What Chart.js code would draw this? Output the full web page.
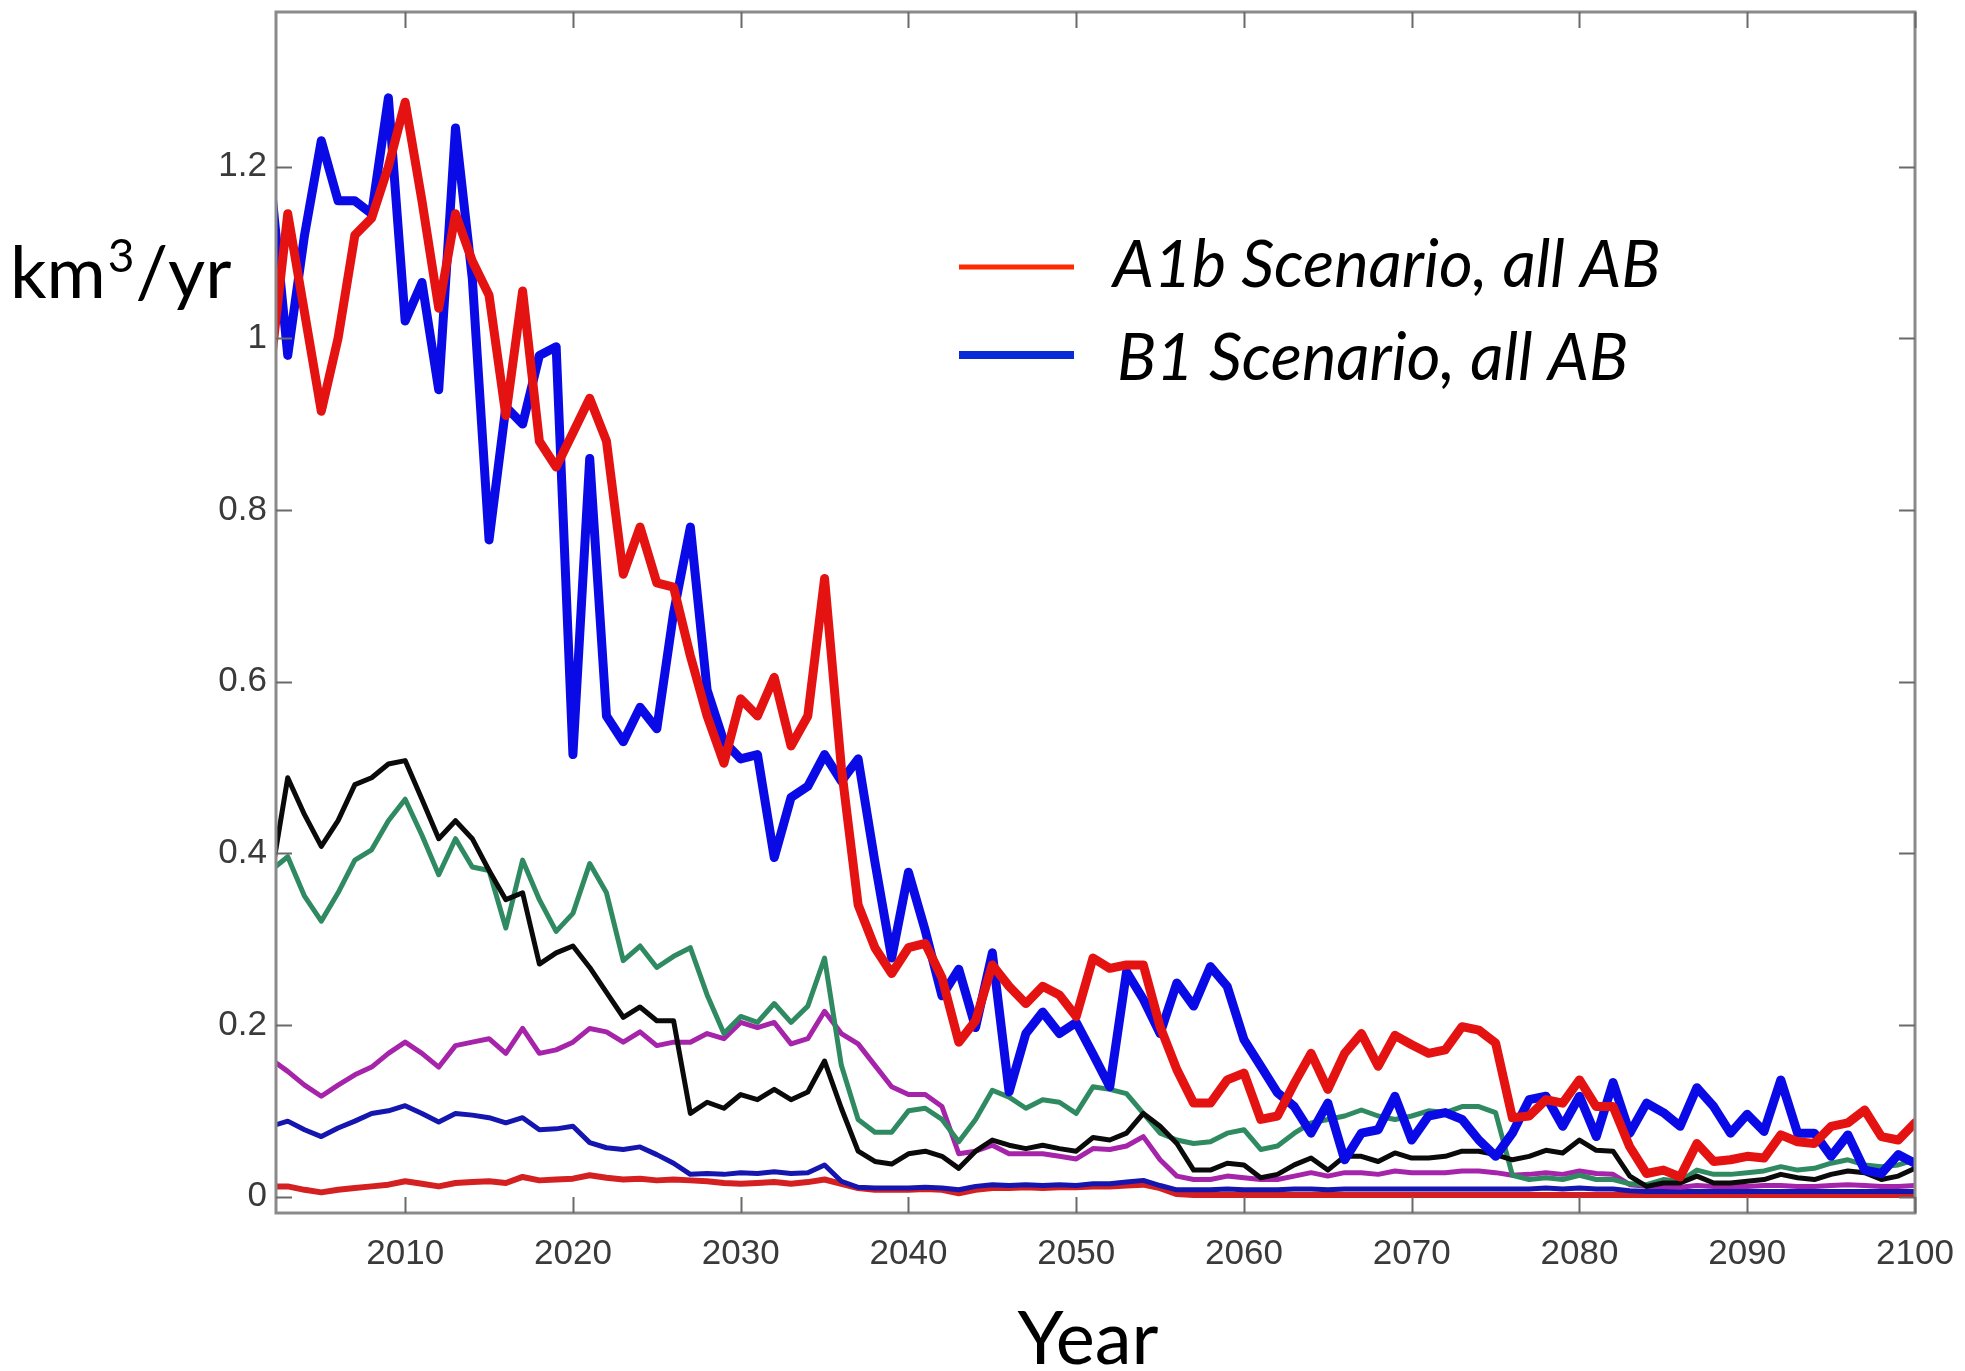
<!DOCTYPE html>
<html>
<head>
<meta charset="utf-8">
<script src="https://cdn.jsdelivr.net/npm/chart.js@4.4.1/dist/chart.umd.min.js"></script>
<style>
html,body{margin:0;padding:0;background:#fff;}
#wrap{position:relative;width:1965px;height:1371px;}
</style>
</head>
<body>
<div id="wrap"><canvas id="c" width="1965" height="1371"></canvas></div>
<script>
const years = [2002,2003,2004,2005,2006,2007,2008,2009,2010,2011,2012,2013,2014,2015,2016,2017,2018,2019,2020,2021,
2022,2023,2024,2025,2026,2027,2028,2029,2030,2031,2032,2033,2034,2035,2036,2037,2038,2039,2040,2041,
2042,2043,2044,2045,2046,2047,2048,2049,2050,2051,2052,2053,2054,2055,2056,2057,2058,2059,2060,2061,
2062,2063,2064,2065,2066,2067,2068,2069,2070,2071,2072,2073,2074,2075,2076,2077,2078,2079,2080,2081,
2082,2083,2084,2085,2086,2087,2088,2089,2090,2091,2092,2093,2094,2095,2096,2097,2098,2099,2100];

const a1bAll = [0.97,1.145,1.03,0.915,1.0,1.12,1.14,1.2,1.275,1.16,1.035,1.145,1.09,1.05,0.91,1.055,0.88,0.85,0.89,0.93,
0.88,0.725,0.78,0.715,0.71,0.63,0.56,0.505,0.58,0.56,0.605,0.525,0.56,0.72,0.5,0.34,0.29,0.26,0.29,0.295,
0.255,0.18,0.205,0.27,0.245,0.225,0.245,0.235,0.21,0.278,0.266,0.27,0.27,0.198,0.148,0.109,0.109,0.136,0.144,0.09,
0.094,0.132,0.167,0.125,0.167,0.19,0.152,0.188,0.177,0.167,0.171,0.198,0.194,0.179,0.092,0.094,0.113,0.109,0.136,0.105,
0.105,0.058,0.027,0.031,0.023,0.062,0.041,0.043,0.047,0.045,0.072,0.064,0.062,0.082,0.086,0.101,0.07,0.066,0.086];

const b1All = [1.18,0.98,1.12,1.23,1.16,1.16,1.145,1.28,1.02,1.065,0.94,1.245,1.07,0.765,0.92,0.9,0.98,0.99,0.515,0.86,
0.56,0.53,0.57,0.545,0.68,0.78,0.59,0.53,0.51,0.515,0.395,0.465,0.478,0.515,0.484,0.51,0.39,0.278,0.378,0.31,
0.234,0.265,0.197,0.284,0.122,0.19,0.215,0.19,0.203,0.166,0.128,0.262,0.23,0.19,0.249,0.222,0.268,0.245,0.183,0.152,
0.121,0.105,0.074,0.109,0.043,0.074,0.078,0.117,0.066,0.094,0.098,0.09,0.066,0.047,0.074,0.113,0.117,0.082,0.117,0.07,
0.133,0.074,0.109,0.098,0.082,0.127,0.105,0.074,0.096,0.076,0.136,0.074,0.074,0.047,0.072,0.031,0.027,0.049,0.039];

const blackThin = [0.37,0.488,0.445,0.408,0.438,0.48,0.488,0.504,0.508,0.463,0.417,0.438,0.417,0.38,0.346,0.354,0.271,0.284,0.292,0.267,
0.238,0.209,0.221,0.205,0.205,0.097,0.11,0.103,0.119,0.113,0.125,0.113,0.122,0.158,0.103,0.053,0.041,0.038,0.05,0.053,
0.047,0.033,0.053,0.066,0.06,0.056,0.06,0.056,0.053,0.069,0.066,0.074,0.097,0.082,0.062,0.031,0.031,0.039,0.037,0.022,
0.026,0.037,0.045,0.031,0.047,0.047,0.041,0.051,0.045,0.045,0.047,0.053,0.053,0.049,0.043,0.047,0.054,0.051,0.066,0.054,
0.053,0.024,0.012,0.016,0.016,0.024,0.016,0.016,0.018,0.02,0.026,0.022,0.02,0.026,0.03,0.028,0.02,0.024,0.033];

const greenThin = [0.38,0.396,0.35,0.321,0.354,0.392,0.404,0.438,0.463,0.421,0.375,0.417,0.384,0.38,0.313,0.392,0.346,0.309,0.33,0.388,
0.354,0.275,0.292,0.267,0.28,0.29,0.235,0.19,0.21,0.203,0.225,0.203,0.222,0.278,0.153,0.09,0.075,0.075,0.1,0.103,
0.09,0.064,0.09,0.124,0.116,0.103,0.113,0.11,0.097,0.128,0.125,0.12,0.097,0.074,0.066,0.062,0.064,0.074,0.078,0.055,
0.059,0.074,0.086,0.09,0.094,0.101,0.094,0.09,0.094,0.1,0.098,0.105,0.105,0.098,0.025,0.02,0.022,0.02,0.025,0.02,
0.02,0.015,0.014,0.02,0.018,0.031,0.026,0.026,0.028,0.03,0.035,0.031,0.033,0.039,0.043,0.037,0.035,0.037,0.043];

const magentaThin = [0.16,0.146,0.13,0.117,0.13,0.142,0.151,0.167,0.18,0.167,0.151,0.176,0.18,0.184,0.167,0.196,0.167,0.171,0.18,0.196,
0.192,0.18,0.192,0.176,0.18,0.18,0.19,0.184,0.203,0.197,0.203,0.178,0.184,0.216,0.19,0.178,0.153,0.128,0.119,0.119,
0.105,0.05,0.053,0.06,0.05,0.05,0.05,0.047,0.044,0.056,0.055,0.059,0.07,0.043,0.024,0.02,0.02,0.024,0.022,0.02,
0.02,0.024,0.028,0.024,0.028,0.028,0.026,0.03,0.028,0.028,0.028,0.03,0.03,0.028,0.025,0.026,0.028,0.026,0.03,0.027,
0.026,0.014,0.012,0.012,0.011,0.013,0.012,0.012,0.012,0.013,0.013,0.012,0.012,0.013,0.014,0.013,0.012,0.012,0.013];

const blueThin = [0.082,0.088,0.078,0.07,0.08,0.088,0.097,0.1,0.106,0.097,0.087,0.097,0.095,0.092,0.086,0.092,0.078,0.079,0.082,0.063,
0.057,0.055,0.058,0.049,0.039,0.026,0.027,0.026,0.028,0.027,0.029,0.027,0.028,0.037,0.018,0.011,0.01,0.01,0.01,0.011,
0.01,0.008,0.012,0.014,0.013,0.014,0.013,0.014,0.013,0.015,0.015,0.017,0.019,0.013,0.008,0.008,0.008,0.009,0.008,0.008,
0.008,0.009,0.009,0.008,0.009,0.009,0.009,0.009,0.009,0.009,0.009,0.009,0.009,0.009,0.009,0.009,0.01,0.009,0.01,0.009,
0.009,0.007,0.006,0.006,0.006,0.006,0.006,0.006,0.006,0.006,0.006,0.006,0.006,0.006,0.006,0.006,0.006,0.006,0.006];

const redThin = [0.012,0.012,0.008,0.005,0.008,0.01,0.012,0.014,0.018,0.015,0.012,0.016,0.017,0.018,0.016,0.023,0.019,0.02,0.021,0.025,
0.022,0.02,0.021,0.019,0.02,0.019,0.018,0.016,0.015,0.016,0.017,0.015,0.017,0.02,0.015,0.01,0.008,0.008,0.008,0.009,
0.008,0.004,0.008,0.01,0.01,0.011,0.01,0.011,0.011,0.012,0.012,0.013,0.014,0.01,0.003,0.002,0.002,0.002,0.002,0.002,
0.002,0.002,0.002,0.002,0.002,0.002,0.002,0.002,0.002,0.002,0.002,0.002,0.002,0.002,0.002,0.002,0.002,0.002,0.002,0.002,
0.002,0.002,0.002,0.002,0.002,0.002,0.002,0.002,0.002,0.002,0.002,0.002,0.002,0.002,0.002,0.002,0.002,0.002,0.002];

const xTicks = [2010,2020,2030,2040,2050,2060,2070,2080,2090,2100];
const yTicks = [0,0.2,0.4,0.6,0.8,1,1.2];
const yTickLabels = ['0','0.2','0.4','0.6','0.8','1','1.2'];
const legendLabels = ['A1b Scenario, all AB','B1 Scenario, all AB'];
const yTitleParts = ['km','3','/yr'];
const xTitle = 'Year';

function pts(vals){ return years.map((y,i)=>({x:y,y:vals[i]})); }

const datasets = [
  {label:legendLabels[0], data:pts(a1bAll), borderColor:'#e51212', borderWidth:9},
  {label:legendLabels[1], data:pts(b1All), borderColor:'#0a0ae6', borderWidth:9},
  {label:'black', data:pts(blackThin), borderColor:'#0a0a0a', borderWidth:5},
  {label:'green', data:pts(greenThin), borderColor:'#2f8a62', borderWidth:5},
  {label:'magenta', data:pts(magentaThin), borderColor:'#a524aa', borderWidth:5},
  {label:'blue', data:pts(blueThin), borderColor:'#1515b0', borderWidth:5},
  {label:'red', data:pts(redThin), borderColor:'#d42020', borderWidth:6}
];

const tickFont = {family:'"Liberation Sans", Arial, sans-serif', size:35};

const framePlugin = {
  id:'frame',
  afterDatasetsDraw(chart){
    const {ctx, chartArea:a, scales:{x,y}} = chart;
    ctx.save();
    ctx.strokeStyle = '#8a8a8a';
    ctx.lineWidth = 3;
    ctx.strokeRect(a.left, a.top, a.right-a.left, a.bottom-a.top);
    ctx.strokeStyle = '#6a6a6a';
    ctx.lineWidth = 2;
    const L = 16;
    ctx.beginPath();
    xTicks.forEach(v=>{
      const px = Math.round(x.getPixelForValue(v))+0.5;
      ctx.moveTo(px, a.bottom); ctx.lineTo(px, a.bottom-L);
      ctx.moveTo(px, a.top); ctx.lineTo(px, a.top+L);
    });
    yTicks.forEach(v=>{
      const py = Math.round(y.getPixelForValue(v))+0.5;
      ctx.moveTo(a.left, py); ctx.lineTo(a.left+L, py);
      ctx.moveTo(a.right, py); ctx.lineTo(a.right-L, py);
    });
    ctx.stroke();
    ctx.restore();
  },
  afterDraw(chart){
    const ctx = chart.ctx;
    ctx.save();
    ctx.fillStyle = '#000';
    ctx.textBaseline = 'alphabetic';
    ctx.textAlign = 'left';
    // y title: km, superscript 3, /yr
    const big = '72px Lato, "Open Sans", sans-serif';
    const sup = '46px Lato, "Open Sans", sans-serif';
    let xx = 10;
    ctx.font = big; ctx.fillText(yTitleParts[0], xx, 298); xx += ctx.measureText(yTitleParts[0]).width + 2;
    ctx.font = sup; ctx.fillText(yTitleParts[1], xx, 272); xx += ctx.measureText(yTitleParts[1]).width + 1;
    ctx.font = big; ctx.fillText(yTitleParts[2], xx, 298);
    ctx.textAlign = 'center';
    ctx.font = '74px Lato, "Open Sans", sans-serif';
    ctx.fillText(xTitle, 1088, 1364);
    // legend
    const sw = [{c:'#ff2a00', w:5, y:267}, {c:'#0a2ad8', w:8, y:355}];
    sw.forEach((s)=>{
      ctx.strokeStyle = s.c; ctx.lineWidth = s.w; ctx.lineCap='butt';
      ctx.beginPath(); ctx.moveTo(959, s.y); ctx.lineTo(1074, s.y); ctx.stroke();
    });
    ctx.textAlign = 'left';
    ctx.font = 'italic 65px Lato, "Open Sans", sans-serif';
    ctx.fillText(legendLabels[0], 1113, 287);
    ctx.fillText(legendLabels[1], 1117, 380);
    ctx.restore();
  }
};

new Chart(document.getElementById('c'), {
  type:'line',
  data:{datasets},
  options:{
    responsive:false,
    animation:false,
    events:[],
    elements:{point:{radius:0}, line:{tension:0, borderJoinStyle:'round', borderCapStyle:'round', fill:false}},
    plugins:{legend:{display:false}, tooltip:{enabled:false}},
    layout:{padding:{top:12, right:50, left:0, bottom:0}},
    scales:{
      x:{
        type:'linear', min:2002.3, max:2100,
        afterBuildTicks:s=>{ s.ticks = xTicks.map(v=>({value:v})); },
        afterFit:s=>{ s.height = 158; s.paddingLeft = 0; s.paddingRight = 0; },
        grid:{display:false, drawTicks:false},
        border:{display:false},
        ticks:{font:tickFont, color:'#3a3a3a', padding:20, maxRotation:0, autoSkip:false, callback:v=>String(v)}
      },
      y:{
        type:'linear', min:-0.019, max:1.38,
        afterBuildTicks:s=>{ s.ticks = yTicks.map(v=>({value:v})); },
        afterFit:s=>{ s.width = 276; s.paddingTop = 0; s.paddingBottom = 0; },
        grid:{display:false, drawTicks:false},
        border:{display:false},
        ticks:{font:tickFont, color:'#3a3a3a', padding:9, autoSkip:false, callback:(v)=>{ const i=yTicks.indexOf(v); return i>=0?yTickLabels[i]:''; }}
      }
    }
  },
  plugins:[framePlugin]
});
</script>
</body>
</html>
